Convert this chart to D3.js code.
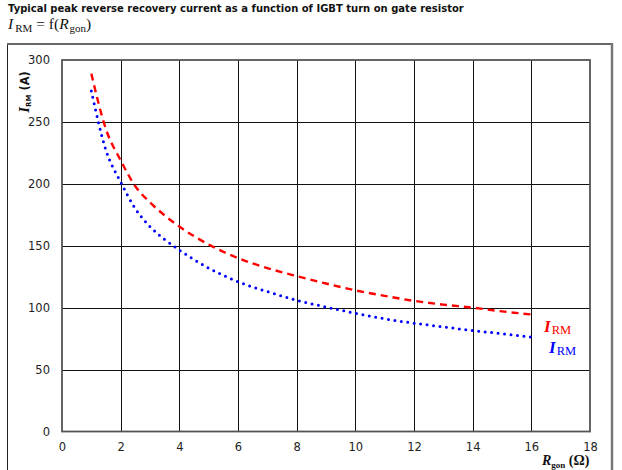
<!DOCTYPE html>
<html>
<head>
<meta charset="utf-8">
<script src="https://cdn.jsdelivr.net/npm/d3@7"></script>
<style>
  html, body { margin: 0; padding: 0; background: #fff; }
  svg { display: block; }
  .tick text { font-family: "DejaVu Sans", Verdana, sans-serif; font-size: 11.5px; fill: #222; }
</style>
</head>
<body>
<svg id="chart" width="622" height="470"></svg>
<script>
// Gate resistance R_gon (Ω) at which the curves are sampled
const rGon = [1, 1.5, 2, 2.5, 3, 3.5, 4, 5, 6, 7, 8, 9, 10, 11, 12, 13, 14, 15, 16];
// Peak reverse recovery current I_RM (A), red dashed curve
const irmRed = [289, 244, 219, 198, 185, 174.5, 165.5, 151, 140, 132, 125.5, 119.5, 114, 109.5, 105.5, 102.5, 100, 97, 94.5];
// Peak reverse recovery current I_RM (A), blue dotted curve
const irmBlue = [275, 227, 201.5, 180, 165.5, 155, 146.5, 132, 121, 113, 106, 100.5, 95.5, 91, 87.5, 84.5, 81.5, 79, 76.3];
// Axis ticks
const xTicks = [0, 2, 4, 6, 8, 10, 12, 14, 16, 18];
const yTicks = [0, 50, 100, 150, 200, 250, 300];

const svg = d3.select("#chart");
const plotL = 62, plotR = 590, plotT = 60, plotB = 431.5;

const x = d3.scaleLinear().domain([0, 18]).range([plotL, plotR]);
const y = d3.scaleLinear().domain([0, 300]).range([plotB, plotT]);

// Heading
svg.append("text")
  .attr("x", 8).attr("y", 12)
  .style("font-family", "'DejaVu Sans', Verdana, sans-serif")
  .style("font-size", "10px").style("font-weight", "bold").style("fill", "#111")
  .text("Typical peak reverse recovery current as a function of IGBT turn on gate resistor");

// Formula line: I_RM = f(R_gon)
const f = svg.append("text")
  .attr("x", 8).attr("y", 29)
  .style("font-family", "'Liberation Serif', 'DejaVu Serif', serif")
  .style("font-size", "15.5px").style("fill", "#111");
f.append("tspan").style("font-style", "italic").text("I");
f.append("tspan").attr("dx", 2).attr("dy", 3).style("font-size", "11px").text("RM");
f.append("tspan").attr("dy", -3).text(" = f(");
f.append("tspan").style("font-style", "italic").text("R");
f.append("tspan").attr("dx", 1).attr("dy", 3).style("font-size", "11px").text("gon");
f.append("tspan").attr("dy", -3).text(")");

// Outer frame
svg.append("line").attr("x1", 7.5).attr("x2", 7.5).attr("y1", 44).attr("y2", 470)
  .attr("stroke", "#222").attr("stroke-width", 1);
svg.append("line").attr("x1", 7).attr("x2", 612).attr("y1", 44).attr("y2", 44)
  .attr("stroke", "#666").attr("stroke-width", 2);
svg.append("line").attr("x1", 612).attr("x2", 612).attr("y1", 43).attr("y2", 470)
  .attr("stroke", "#777").attr("stroke-width", 2.5);

// Grid
const grid = svg.append("g");
grid.selectAll("line.v").data(xTicks.slice(1, -1)).join("line")
  .attr("x1", d => Math.round(x(d)) + 0.5).attr("x2", d => Math.round(x(d)) + 0.5)
  .attr("y1", plotT).attr("y2", plotB)
  .attr("stroke", "#111").attr("stroke-width", 1);
grid.selectAll("line.h").data(yTicks.slice(1, -1)).join("line")
  .attr("x1", plotL).attr("x2", plotR)
  .attr("y1", d => Math.round(y(d)) + 0.5).attr("y2", d => Math.round(y(d)) + 0.5)
  .attr("stroke", "#111").attr("stroke-width", 1);
// Plot border
svg.append("rect")
  .attr("x", plotL).attr("y", plotT).attr("width", plotR - plotL).attr("height", plotB - plotT)
  .attr("fill", "none").attr("stroke", "#555").attr("stroke-width", 1.8);

// Axes (labels only)
const xAxis = svg.append("g").attr("transform", `translate(0,${plotB})`)
  .call(d3.axisBottom(x).tickValues(xTicks).tickSize(0).tickPadding(11));
xAxis.select(".domain").remove();
const yAxis = svg.append("g").attr("transform", `translate(${plotL},0)`)
  .call(d3.axisLeft(y).tickValues(yTicks).tickSize(0).tickPadding(12));
yAxis.select(".domain").remove();

// Curves
const line = d3.line().x(d => x(d[0])).y(d => y(d[1])).curve(d3.curveMonotoneX);
svg.append("path")
  .attr("d", line(d3.zip(rGon, irmRed)))
  .attr("fill", "none").attr("stroke", "#ff0000").attr("stroke-width", 2.4)
  .attr("stroke-dasharray", "7,5");
svg.append("path")
  .attr("d", line(d3.zip(rGon, irmBlue)))
  .attr("fill", "none").attr("stroke", "#0000ff").attr("stroke-width", 3)
  .attr("stroke-linecap", "round").attr("stroke-dasharray", "0,6.5");

// Curve labels
function irmLabel(px, py, color) {
  const t = svg.append("text").attr("x", px).attr("y", py)
    .style("font-family", "'Liberation Serif', 'DejaVu Serif', serif")
    .style("font-size", "17px").style("fill", color);
  t.append("tspan").style("font-style", "italic").style("font-weight", "bold").text("I");
  t.append("tspan").attr("dx", 1).attr("dy", 2).style("font-size", "12.5px").text("RM");
}
irmLabel(544, 332, "#ff0000");
irmLabel(549, 353, "#0000ff");

// Y axis title
const yt = svg.append("text")
  .attr("transform", "translate(29,92) rotate(-90)")
  .attr("text-anchor", "middle")
  .style("font-family", "'DejaVu Sans', Verdana, sans-serif")
  .style("font-size", "11.5px").style("font-weight", "bold").style("fill", "#111");
yt.append("tspan").style("font-family", "'Liberation Serif', serif").style("font-style", "italic").style("font-size", "15px").text("I");
yt.append("tspan").attr("dy", 2).style("font-size", "7px").text("RM");
yt.append("tspan").attr("dy", -2).text(" (A)");

// X axis title
const xt = svg.append("text")
  .attr("x", 542).attr("y", 465)
  .style("font-family", "'Liberation Serif', 'DejaVu Serif', serif")
  .style("font-size", "14px").style("font-weight", "bold").style("fill", "#111");
xt.append("tspan").style("font-style", "italic").text("R");
xt.append("tspan").attr("dy", 3).style("font-size", "9px").text("gon");
xt.append("tspan").attr("dy", -3).text(" (Ω)");
</script>
</body>
</html>
